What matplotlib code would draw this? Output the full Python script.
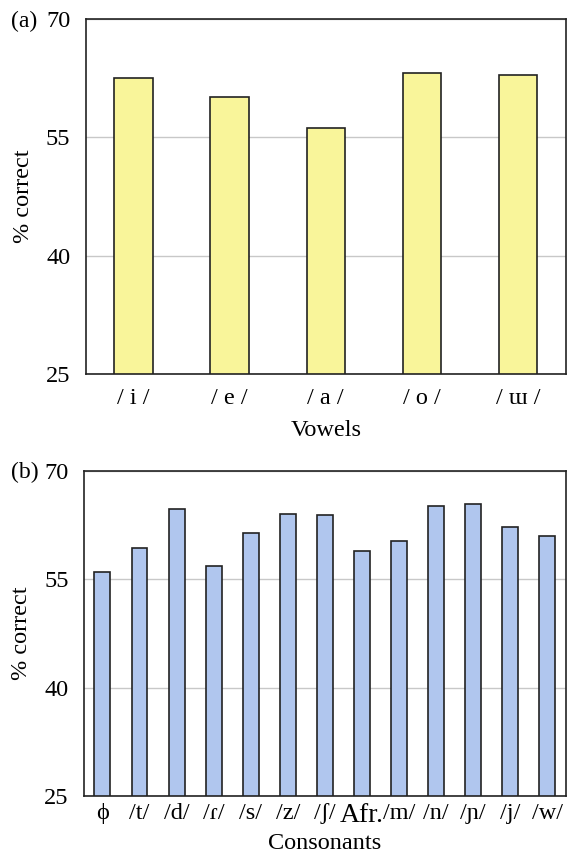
import matplotlib
matplotlib.use("Agg")
import matplotlib.pyplot as plt

plt.rcParams['font.family'] = ['Liberation Serif', 'DejaVu Serif']

# panel (a) vowels
vowels = ['/ i /', '/ e /', '/ a /', '/ o /', '/ ɯ /']
vowel_scores = [62.5, 60.1, 56.2, 63.2, 62.9]

# panel (b) consonants
consonants = ['ϕ', '/t/', '/d/', '/ɾ/', '/s/', '/z/', '/ʃ/', 'Afr.', '/m/', '/n/', '/ɲ/', '/j/', '/w/']
consonant_scores = [56.0, 59.3, 64.8, 56.9, 61.4, 64.1, 63.9, 58.9, 60.35, 65.1, 65.5, 62.2, 61.0]

yticks = [25, 40, 55, 70]

fig = plt.figure(figsize=(5.67, 8.57), dpi=100)
ax1 = fig.add_axes([0.151, 0.5636, 0.847, 0.4142])
ax2 = fig.add_axes([0.148, 0.0712, 0.850, 0.3792])


def style(ax, n, xlabel):
    ax.set_ylim(25, 70)
    ax.set_xlim(-0.5, n - 0.5)
    ax.set_yticks(yticks)
    ax.yaxis.grid(True, color='#c8c8c8', linewidth=1.0)
    ax.set_axisbelow(True)
    ax.tick_params(length=0, labelsize=17.5)
    ax.tick_params(axis='y', pad=11)
    ax.tick_params(axis='x', pad=10)
    ax.set_ylabel('% correct', fontsize=17.5)
    ax.yaxis.set_label_coords(-0.108, 0.5)
    ax.set_xlabel(xlabel, fontsize=17.5, labelpad=8)
    for s in ax.spines.values():
        s.set_color('#222222')
        s.set_linewidth(1.2)


ax1.bar(range(len(vowels)), vowel_scores, width=0.4,
        color='#f9f59a', edgecolor='#222222', linewidth=1.2)
ax1.set_xticks(range(len(vowels)))
ax1.set_xticklabels(vowels)
style(ax1, len(vowels), 'Vowels')

ax2.bar(range(len(consonants)), consonant_scores, width=0.43,
        color='#b0c6ee', edgecolor='#222222', linewidth=1.2)
ax2.set_xticks(range(len(consonants)))
ax2.set_xticklabels(consonants)
style(ax2, len(consonants), 'Consonants')
ax2.tick_params(axis='x', pad=5, labelsize=17.5)
ax2.xaxis.labelpad = 4
for lab in ax2.get_xticklabels():
    if lab.get_text() == 'Afr.':
        lab.set_fontsize(20)

fig.text(0.019, 0.975, '(a)', fontsize=17, va='center')
fig.text(0.019, 0.449, '(b)', fontsize=17, va='center')

fig.savefig('out.png', dpi=100)
